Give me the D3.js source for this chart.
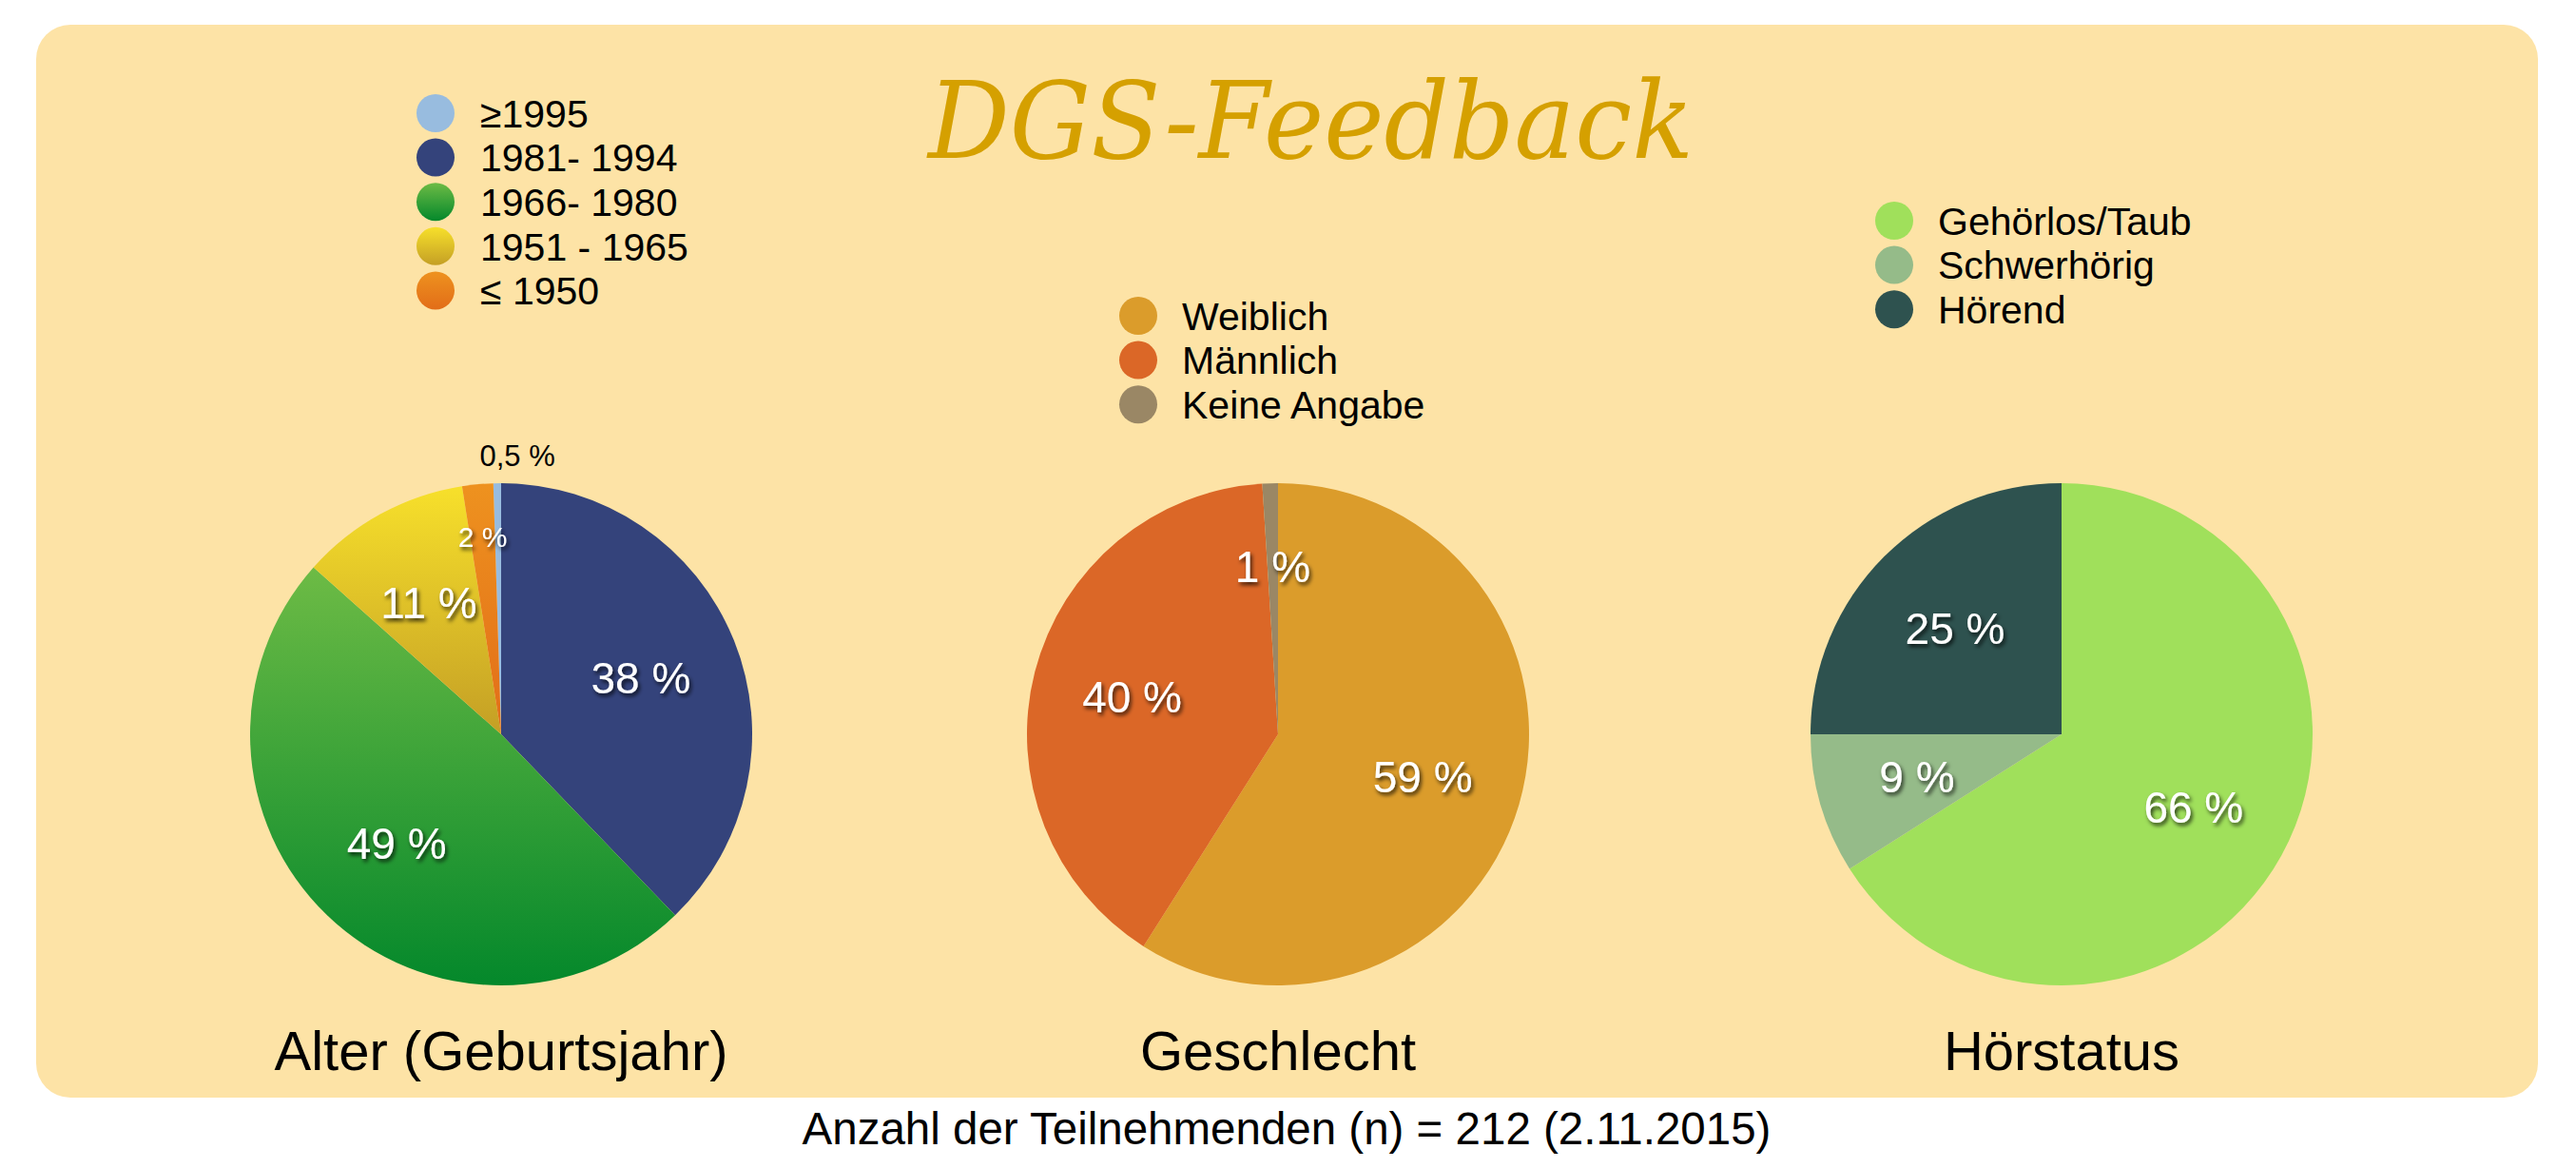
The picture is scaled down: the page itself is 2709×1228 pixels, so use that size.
<!DOCTYPE html>
<html>
<head>
<meta charset="utf-8">
<script src="https://cdn.jsdelivr.net/npm/d3@7"></script>
<style>
  body { margin: 0; background: #fff; }
  svg { display: block; font-family: "Liberation Sans", Arial, sans-serif; }
</style>
</head>
<body>
<div id="chart"></div>
<script>
// Altersgruppen (Geburtsjahr)
const ageLabels = ["≥1995", "1981- 1994", "1966- 1980", "1951 - 1965", "≤ 1950"];
const ageValues = [0.5, 38, 49, 11, 2];

// Geschlecht
const genderLabels = ["Weiblich", "Männlich", "Keine Angabe"];
const genderValues = [59, 40, 1];

// Hörstatus
const hearingLabels = ["Gehörlos/Taub", "Schwerhörig", "Hörend"];
const hearingValues = [66, 9, 25];

const chartTitles = ["Alter (Geburtsjahr)", "Geschlecht", "Hörstatus"];
const footnote = "Anzahl der Teilnehmenden (n) = 212 (2.11.2015)";

const width = 2709, height = 1228;

const svg = d3.select("#chart").append("svg")
    .attr("width", width)
    .attr("height", height);

const defs = svg.append("defs");

// gradient fills (top -> bottom)
const gradients = [
    { id: "g-green", top: "#6dbb45", bottom: "#04882b" },
    { id: "g-yellow", top: "#f7e02b", bottom: "#c49f25" },
    { id: "g-orange", top: "#ee921f", bottom: "#e26d18" }
];
gradients.forEach(g => {
    const lg = defs.append("linearGradient")
        .attr("id", g.id)
        .attr("x1", 0).attr("y1", 0).attr("x2", 0).attr("y2", 1);
    lg.append("stop").attr("offset", "0%").attr("stop-color", g.top);
    lg.append("stop").attr("offset", "100%").attr("stop-color", g.bottom);
});

defs.append("filter")
    .attr("id", "shadow")
    .attr("x", "-30%").attr("y", "-30%").attr("width", "160%").attr("height", "160%")
  .append("feDropShadow")
    .attr("dx", 2).attr("dy", 3)
    .attr("stdDeviation", 2)
    .attr("flood-color", "#000")
    .attr("flood-opacity", 0.75);

// background panel
svg.append("rect")
    .attr("x", 38).attr("y", 26)
    .attr("width", 2631).attr("height", 1128)
    .attr("rx", 36).attr("ry", 36)
    .attr("fill", "#fde3a6");

// title
svg.append("text")
    .attr("x", 976).attr("y", 166)
    .attr("textLength", 805)
    .attr("lengthAdjust", "spacingAndGlyphs")
    .style("font-family", "'DejaVu Serif', 'Liberation Serif', serif")
    .style("font-style", "italic")
    .style("font-size", "112px")
    .attr("fill", "#d5a000")
    .text("DGS-Feedback");

const r = 264, cy = 772;

const charts = [
    {
        labels: ageLabels, values: ageValues,
        colors: ["#98bcdf", "#34437b", "url(#g-green)", "url(#g-yellow)", "url(#g-orange)"],
        cx: 527,
        start: -(ageValues[0] / d3.sum(ageValues)) * 2 * Math.PI,
        legend: { x: 458, y: 119, textX: 505 },
        smallFont: 30, smallRadius: 0.79
    },
    {
        labels: genderLabels, values: genderValues,
        colors: ["#db9c2b", "#db6727", "#9a8765"],
        cx: 1344, start: 0,
        legend: { x: 1197, y: 332, textX: 1243 },
        smallFont: 46, smallRadius: 0.67
    },
    {
        labels: hearingLabels, values: hearingValues,
        colors: ["#a0e05b", "#95bb89", "#2e524f"],
        cx: 2168, start: 0,
        legend: { x: 1992, y: 232, textX: 2038 },
        smallFont: 46, smallRadius: 0.67
    }
];

const arc = d3.arc().innerRadius(0).outerRadius(r);

charts.forEach((c, ci) => {
    const pie = d3.pie()
        .sort(null)
        .startAngle(c.start)
        .endAngle(c.start + 2 * Math.PI);

    const arcs = pie(c.values);
    const g = svg.append("g").attr("transform", `translate(${c.cx},${cy})`);

    g.selectAll("path")
        .data(arcs)
        .enter().append("path")
        .attr("d", arc)
        .attr("fill", (d, i) => c.colors[i]);

    const labelRadius = v => v < 1 ? 1.11 : v <= 2 ? c.smallRadius : 0.6;

    g.selectAll("text")
        .data(arcs)
        .enter().append("text")
        .attr("transform", d => {
            const a = (d.startAngle + d.endAngle) / 2;
            const lr = r * labelRadius(d.data);
            return `translate(${lr * Math.sin(a)},${-lr * Math.cos(a)})`;
        })
        .attr("text-anchor", "middle")
        .attr("dx", d => d.data < 1 ? "0.7em" : 0)
        .attr("dy", "0.36em")
        .style("font-size", d => d.data < 1 ? "31px" : d.data <= 2 ? c.smallFont + "px" : "46px")
        .attr("fill", d => d.data < 1 ? "#000" : "#fff")
        .attr("filter", d => d.data < 1 ? null : "url(#shadow)")
        .text(d => String(d.data).replace(".", ",") + " %");

    // legend
    const leg = svg.append("g");
    const step = 46.6;
    c.labels.forEach((lab, i) => {
        leg.append("circle")
            .attr("cx", c.legend.x)
            .attr("cy", c.legend.y + i * step)
            .attr("r", 20)
            .attr("fill", c.colors[i]);
        leg.append("text")
            .attr("x", c.legend.textX)
            .attr("y", c.legend.y + i * step)
            .attr("dy", "0.36em")
            .style("font-size", "41px")
            .attr("fill", "#000")
            .text(lab);
    });

    // chart title below pie
    svg.append("text")
        .attr("x", c.cx)
        .attr("y", 1125)
        .attr("text-anchor", "middle")
        .style("font-size", "58px")
        .attr("fill", "#000")
        .text(chartTitles[ci]);
});

svg.append("text")
    .attr("x", 1353)
    .attr("y", 1203)
    .attr("text-anchor", "middle")
    .style("font-size", "47.5px")
    .attr("fill", "#000")
    .text(footnote);
</script>
</body>
</html>
